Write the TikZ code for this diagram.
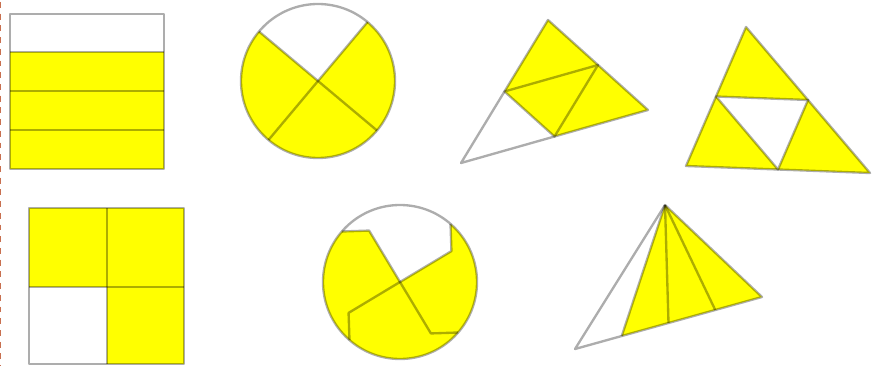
\documentclass[tikz,border=0pt]{standalone}
\usetikzlibrary{calc}
\definecolor{marginline}{RGB}{200,112,80}
\definecolor{pieceyellow}{RGB}{255,255,0}
\begin{document}
\begin{tikzpicture}[x=0.03cm, y=0.03cm,
    piece/.style={fill=pieceyellow},
    edge/.style={draw=black, draw opacity=0.32, line width=2pt, line join=round},
    margin/.style={draw=marginline, line width=0.9pt, dash pattern=on 5pt off 5pt}
]
\useasboundingbox (0,0) rectangle (873,366);
\draw[margin] (0.6,364) -- (0.6,0);
\fill[piece] (10,197) rectangle (164,314);
\draw[edge] (10,197) rectangle (164,352);
\foreach \y in {236,275,314}
  \draw[edge] (10,\y) -- (164,\y);
\coordinate (C1) at (318,285);
\fill[piece] (C1) -- ++(140:77) arc[start angle=140, end angle=410, radius=77] -- cycle;
\draw[edge] (C1) circle[radius=77];
\draw[edge] ($(C1)+(50:77)$) -- ($(C1)+(230:77)$);
\draw[edge] ($(C1)+(140:77)$) -- ($(C1)+(320:77)$);
\coordinate (A) at (548,346);
\coordinate (B) at (648,256);
\coordinate (C) at (461,203);
\coordinate (AB) at ($(A)!0.5!(B)$);
\coordinate (AC) at ($(A)!0.5!(C)$);
\coordinate (BC) at ($(B)!0.5!(C)$);
\fill[piece] (A) -- (B) -- (BC) -- (AC) -- cycle;
\draw[edge] (A) -- (B) -- (C) -- cycle;
\draw[edge] (AB) -- (AC) -- (BC) -- cycle;
\coordinate (D) at (746,339);
\coordinate (E) at (686,200);
\coordinate (F) at (870,193);
\coordinate (DE) at ($(D)!0.5!(E)$);
\coordinate (DF) at ($(D)!0.5!(F)$);
\coordinate (EF) at ($(E)!0.5!(F)$);
\fill[piece] (D) -- (DE) -- (DF) -- cycle;
\fill[piece] (E) -- (EF) -- (DE) -- cycle;
\fill[piece] (F) -- (DF) -- (EF) -- cycle;
\draw[edge] (D) -- (E) -- (F) -- cycle;
\draw[edge] (DE) -- (DF) -- (EF) -- cycle;
\fill[piece] (29,79) rectangle (184,158);
\fill[piece] (107,2) rectangle (184,79);
\draw[edge] (29,2) rectangle (184,158);
\draw[edge] (107,2) -- (107,158);
\draw[edge] (29,79) -- (184,79);
\coordinate (C2) at (400,84);
\fill[piece] (C2) -- ++(31:60) -- ($(C2)+(49:77)$) arc[start angle=49, end angle=-221, radius=77] -- ($(C2)+(121:60)$) -- cycle;
\draw[edge] (C2) circle[radius=77];
\foreach \a in {31,121,211,301}
  \draw[edge] (C2) -- ++(\a:60) -- ($(C2)+({\a+18}:77)$);
\coordinate (G) at (665,161);
\coordinate (H) at (575,17);
\coordinate (K) at (762,69);
\fill[piece] (G) -- ($(H)!0.25!(K)$) -- (K) -- cycle;
\draw[edge] (G) -- (H) -- (K) -- cycle;
\foreach \t in {0.25,0.5,0.75}
  \draw[edge] (G) -- ($(H)!\t!(K)$);
\end{tikzpicture}
\end{document}
